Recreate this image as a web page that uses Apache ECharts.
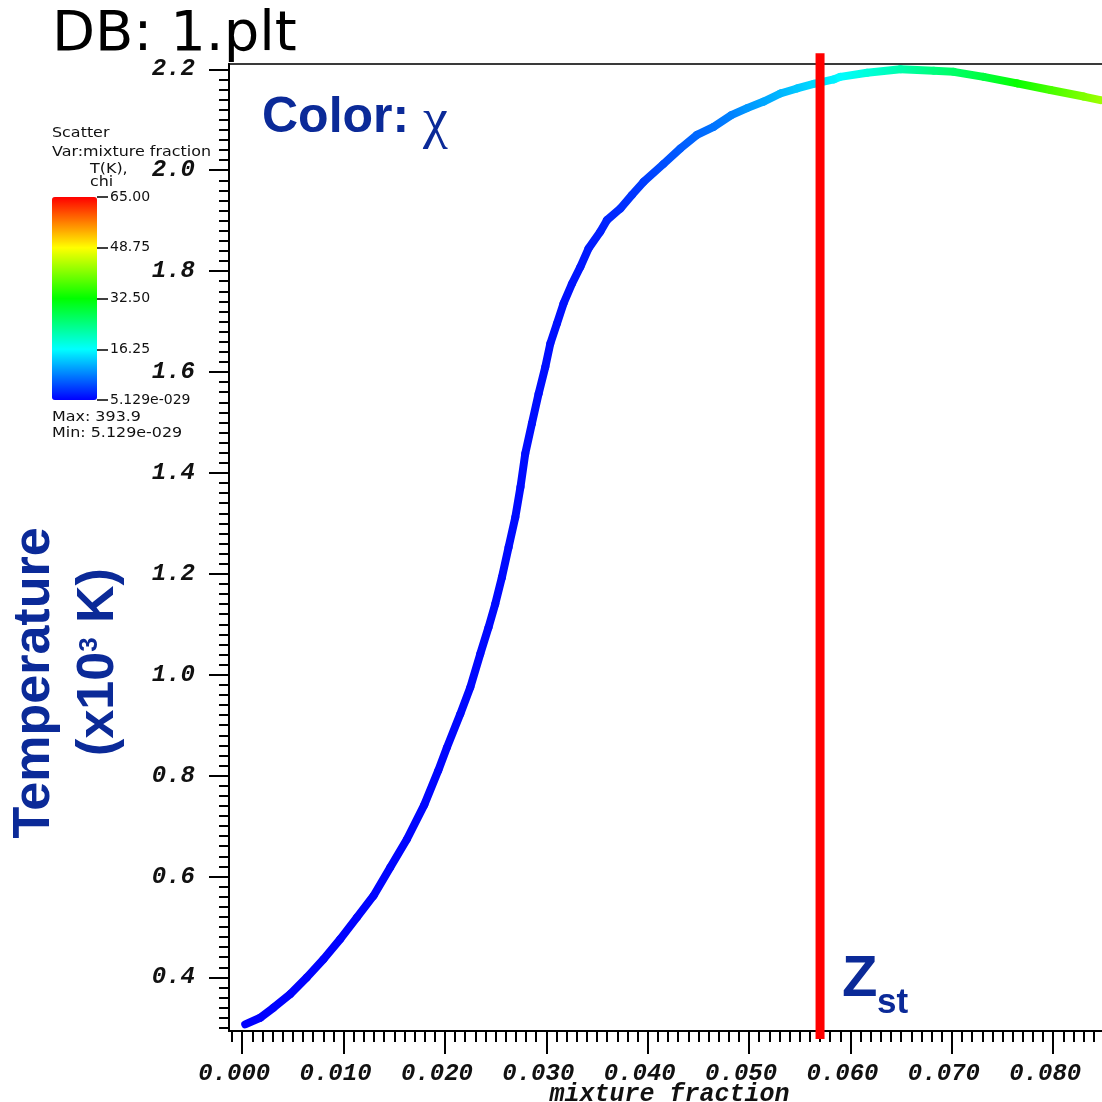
<!DOCTYPE html>
<html>
<head>
<meta charset="utf-8">
<script src="https://cdn.jsdelivr.net/npm/echarts@6/dist/echarts.min.js"></script>
<style>
  html, body { margin: 0; padding: 0; background: #ffffff; }
  #chart { width: 1102px; height: 1102px; }
</style>
</head>
<body>
<div id="chart"></div>
<script>
// Mixture fraction (Z) of each sampled cell
const mixtureFraction = [
  0.00030, 0.00178, 0.00309, 0.00474, 0.00638, 0.00802, 0.00967, 0.01132, 0.01296, 0.01460,
  0.01625, 0.01796, 0.01934, 0.02020, 0.02151, 0.02250, 0.02348, 0.02430, 0.02496, 0.02562,
  0.02628, 0.02694, 0.02745, 0.02792, 0.02858, 0.02924, 0.02990, 0.03039, 0.03105, 0.03170,
  0.03253, 0.03335, 0.03417, 0.03532, 0.03598, 0.03730, 0.03845, 0.03960, 0.04154, 0.04322,
  0.04486, 0.04650, 0.04825, 0.04980, 0.05144, 0.05308, 0.05473, 0.05637, 0.05834, 0.05900,
  0.06164, 0.06493, 0.06821, 0.07018, 0.07314, 0.07644, 0.07972, 0.08301, 0.08466
];
// Temperature in 10^3 K
const temperature = [
  0.307, 0.320, 0.340, 0.367, 0.400, 0.436, 0.476, 0.519, 0.562, 0.618,
  0.674, 0.742, 0.810, 0.856, 0.922, 0.975, 1.041, 1.094, 1.140, 1.193,
  1.253, 1.312, 1.372, 1.438, 1.498, 1.557, 1.610, 1.656, 1.696, 1.736,
  1.775, 1.808, 1.845, 1.878, 1.901, 1.924, 1.951, 1.977, 2.012, 2.043,
  2.070, 2.086, 2.109, 2.123, 2.136, 2.152, 2.162, 2.171, 2.180, 2.185,
  2.193, 2.200, 2.197, 2.195, 2.185, 2.172, 2.159, 2.146, 2.139
];
// Scalar dissipation rate chi (colour variable)
const chi = [
  0.0, 0.0, 0.1, 0.1, 0.1, 0.2, 0.2, 0.2, 0.3, 0.3,
  0.3, 0.4, 0.4, 0.4, 0.5, 0.5, 0.5, 0.6, 0.6, 0.6,
  0.7, 0.7, 0.7, 0.8, 0.8, 0.8, 0.9, 0.9, 1.0, 1.0,
  1.2, 1.4, 1.7, 2.0, 2.3, 2.8, 3.3, 3.9, 5.0, 5.8,
  6.6, 7.3, 8.2, 9.6, 10.6, 11.6, 12.7, 13.9, 15.3, 16.0,
  18.5, 21.5, 24.5, 26.0, 28.5, 33.0, 37.0, 40.5, 42.5
];

// Stoichiometric mixture fraction marker and its vertical extent
const zStoich = 0.0570;
const zStoichSpan = [2.232, 0.278];

// Axis extents and tick positions
const xRange = [-0.0013, 0.0856];
const yRange = [0.2938, 2.2105];
const xMajorTicks = [0.00, 0.01, 0.02, 0.03, 0.04, 0.05, 0.06, 0.07, 0.08];
const yMajorTicks = [0.4, 0.6, 0.8, 1.0, 1.2, 1.4, 1.6, 1.8, 2.0, 2.2];
const xMinorTicks = [];
for (let i = -1; i <= 85; i++) xMinorTicks.push(i / 1000);
const yMinorTicks = [];
for (let i = 15; i <= 110; i++) yMinorTicks.push(i * 2 / 100);

// Colour bar range and labels
const chiRange = [0, 65];
const chiTicks = [0, 16.25, 32.5, 48.75, 65];
const chiTickLabels = ['5.129e-029', '16.25', '32.50', '48.75', '65.00'];
const hotColors = ['#0000ff', '#00ffff', '#00ff00', '#ffff00', '#ff0000'];

const BLUE = '#0b2a98';
const tickFont = {
  fontFamily: 'Liberation Mono', fontStyle: 'italic', fontWeight: 'bold',
  fontSize: 24, color: '#111111'
};

const points = mixtureFraction.map((z, i) => [z, temperature[i], chi[i]]);

const chart = echarts.init(document.getElementById('chart'), null, { renderer: 'canvas' });

chart.setOption({
  animation: false,
  backgroundColor: '#ffffff',
  grid: [
    { left: 229, top: 64, right: -8, bottom: 71, show: true, containLabel: false,
      outerBoundsMode: 'none',
      borderColor: '#3a3a3a', borderWidth: 2, backgroundColor: 'transparent' },
    { left: 52, top: 197, width: 45, height: 203, containLabel: false, outerBoundsMode: 'none' }
  ],
  xAxis: [
    {
      type: 'value', gridIndex: 0, position: 'bottom',
      min: xRange[0], max: xRange[1],
      name: 'mixture fraction', nameLocation: 'middle', nameGap: 51, nameMoveOverlap: false,
      nameTextStyle: { fontFamily: 'Liberation Mono', fontWeight: 'bold', fontStyle: 'italic',
        fontSize: 25, color: '#111111' },
      axisLine: { show: true, onZero: false, lineStyle: { color: '#000', width: 2 } },
      axisTick: { show: true, customValues: xMajorTicks, length: 23, lineStyle: { color: '#000', width: 2 } },
      axisLabel: Object.assign({ customValues: xMajorTicks, margin: 31, padding: [0, 16, 0, 0],
        formatter: v => v.toFixed(3) }, tickFont),
      splitLine: { show: false }
    },
    {
      type: 'value', gridIndex: 0, position: 'bottom',
      min: xRange[0], max: xRange[1],
      axisLine: { show: false, onZero: false },
      axisTick: { show: true, customValues: xMinorTicks, length: 11, lineStyle: { color: '#000', width: 2 } },
      axisLabel: { show: false },
      splitLine: { show: false }
    },
    { type: 'value', gridIndex: 1, show: false, min: 0, max: 1, axisLine: { onZero: false } }
  ],
  yAxis: [
    {
      type: 'value', gridIndex: 0, position: 'left',
      min: yRange[0], max: yRange[1],
      axisLine: { show: true, onZero: false, lineStyle: { color: '#000', width: 2 } },
      axisTick: { show: true, customValues: yMajorTicks, length: 20, lineStyle: { color: '#000', width: 2 } },
      axisLabel: Object.assign({ customValues: yMajorTicks, margin: 34, padding: [6, 0, 0, 0],
        formatter: v => v.toFixed(1) }, tickFont),
      splitLine: { show: false }
    },
    {
      type: 'value', gridIndex: 0, position: 'left',
      min: yRange[0], max: yRange[1],
      axisLine: { show: false, onZero: false },
      axisTick: { show: true, customValues: yMinorTicks, length: 10, lineStyle: { color: '#000', width: 2 } },
      axisLabel: { show: false },
      splitLine: { show: false }
    },
    {
      type: 'value', gridIndex: 1, position: 'right',
      min: chiRange[0], max: chiRange[1],
      axisLine: { show: false, onZero: false },
      axisTick: { show: true, customValues: chiTicks, length: 11, lineStyle: { color: '#000', width: 1.5 } },
      axisLabel: { customValues: chiTicks, margin: 13, fontFamily: 'DejaVu Sans', fontSize: 14, color: '#111',
        formatter: v => chiTickLabels[chiTicks.indexOf(v)] },
      splitLine: { show: false }
    }
  ],
  visualMap: {
    type: 'continuous',
    seriesIndex: 0,
    dimension: 2,
    min: chiRange[0], max: chiRange[1],
    inRange: { color: hotColors },
    orient: 'vertical',
    left: 52, top: 197,
    itemWidth: 45, itemHeight: 203,
    padding: 0,
    calculable: false,
    hoverLink: false,
    handleSize: 0,
    indicatorSize: 0,
    text: null,
    show: true
  },
  graphic: [
    { type: 'text', x: 52, y: 35, style: { text: 'DB: 1.plt', fontFamily: 'DejaVu Sans', fontSize: 56,
        fill: '#000', verticalAlign: 'middle', align: 'left' } },
    { type: 'text', x: 52, y: 133, scaleX: 1.18, style: { text: 'Scatter', fontFamily: 'DejaVu Sans', fontSize: 13.5,
        fill: '#111', verticalAlign: 'middle' } },
    { type: 'text', x: 52, y: 152, scaleX: 1.18, style: { text: 'Var:mixture fraction', fontFamily: 'DejaVu Sans', fontSize: 13.5,
        fill: '#111', verticalAlign: 'middle' } },
    { type: 'text', x: 90, y: 169, scaleX: 1.18, style: { text: 'T(K),', fontFamily: 'DejaVu Sans', fontSize: 13.5,
        fill: '#111', verticalAlign: 'middle' } },
    { type: 'text', x: 90, y: 182, scaleX: 1.18, style: { text: 'chi', fontFamily: 'DejaVu Sans', fontSize: 13.5,
        fill: '#111', verticalAlign: 'middle' } },
    { type: 'text', x: 52, y: 417, scaleX: 1.18, style: { text: 'Max: 393.9', fontFamily: 'DejaVu Sans', fontSize: 13.5,
        fill: '#111', verticalAlign: 'middle' } },
    { type: 'text', x: 52, y: 433, scaleX: 1.18, style: { text: 'Min: 5.129e-029', fontFamily: 'DejaVu Sans', fontSize: 13.5,
        fill: '#111', verticalAlign: 'middle' } },
    { type: 'text', x: 262, y: 118, style: {
        text: '{a|Color: }{b|χ}', verticalAlign: 'middle', align: 'left',
        rich: {
          a: { fontFamily: 'Liberation Sans', fontWeight: 'bold', fontSize: 50, fill: BLUE },
          b: { fontFamily: 'Liberation Serif', fontSize: 56, fill: BLUE, padding: [8, 0, 0, 0] }
        } } },
    { type: 'text', x: 35, y: 683, rotation: Math.PI / 2, style: {
        text: 'Temperature', fontFamily: 'Liberation Sans', fontWeight: 'bold', fontSize: 52,
        fill: BLUE, align: 'center', verticalAlign: 'middle' } },
    { type: 'text', x: 99, y: 662, rotation: Math.PI / 2, style: {
        text: '{t|(x10}{s|3}{t| K)}', align: 'center', verticalAlign: 'middle',
        rich: {
          t: { fontFamily: 'Liberation Sans', fontWeight: 'bold', fontSize: 52, fill: BLUE, lineHeight: 56 },
          s: { fontFamily: 'Liberation Sans', fontWeight: 'bold', fontSize: 26, fill: BLUE, verticalAlign: 'top', lineHeight: 56, padding: [6, 0, 0, 0] }
        } } },
    { type: 'text', x: 842, y: 980, style: { text: 'Z', fontFamily: 'Liberation Sans', fontWeight: 'bold',
        fontSize: 58, fill: BLUE, verticalAlign: 'middle' } },
    { type: 'text', x: 877, y: 1003, style: { text: 'st', fontFamily: 'Liberation Sans', fontWeight: 'bold',
        fontSize: 35, fill: BLUE, verticalAlign: 'middle' } }
  ],
  series: [
    {
      // Scatter of (Z, T) coloured by chi, drawn as a thick band
      type: 'custom',
      xAxisIndex: 0, yAxisIndex: 0,
      coordinateSystem: 'cartesian2d',
      encode: { x: 0, y: 1 },
      data: points,
      z: 3,
      renderItem: function (params, api) {
        const i = params.dataIndexInside;
        const p1 = api.coord([api.value(0), api.value(1)]);
        const p0 = i > 0 ? api.coord([api.value(0, i - 1), api.value(1, i - 1)]) : p1;
        const c1 = api.visual('color');
        const c0 = i > 0 ? api.visual('color', i - 1) : c1;
        const same = p0[0] === p1[0] && p0[1] === p1[1];
        const stroke = same ? c1 : new echarts.graphic.LinearGradient(p0[0], p0[1], p1[0], p1[1],
          [{ offset: 0, color: c0 }, { offset: 1, color: c1 }], true);
        return {
          type: 'line',
          shape: { x1: p0[0], y1: p0[1], x2: p1[0], y2: p1[1] },
          style: { stroke: stroke, lineWidth: 8, lineCap: 'round' }
        };
      }
    },
    {
      // Stoichiometric mixture fraction
      type: 'line',
      xAxisIndex: 0, yAxisIndex: 0,
      data: [[zStoich, zStoichSpan[0]], [zStoich, zStoichSpan[1]]],
      clip: false,
      symbol: 'none',
      z: 4,
      lineStyle: { color: '#ff0000', width: 9 }
    }
  ]
});
</script>
</body>
</html>
